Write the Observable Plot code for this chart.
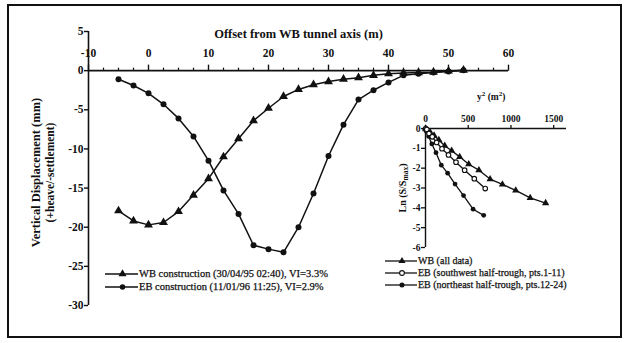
<!DOCTYPE html>
<html><head><meta charset="utf-8">
<script src="https://cdn.jsdelivr.net/npm/d3@7"></script>
<script src="https://cdn.jsdelivr.net/npm/@observablehq/plot@0.6"></script>
<style>
body{margin:0;background:#fff;}
#wrap{position:relative;width:625px;height:343px;overflow:hidden;font-family:"Liberation Serif","Times New Roman",serif;color:#111;}
#wrap svg{position:absolute;left:0;top:0;}
.frame{position:absolute;left:7px;top:4px;width:611px;height:330px;border:2px solid #111;}
.leg{position:absolute;display:flex;align-items:center;white-space:nowrap;line-height:1;-webkit-text-stroke:0.25px #111;}
.leg svg{position:static !important;margin-right:1px;}
.lbl{position:absolute;font-weight:bold;white-space:nowrap;line-height:1;}
</style></head><body><div id="wrap"><div class="frame"></div></div>
<script>
// Main chart: offset from WB tunnel axis (m) and vertical displacement (mm)
const offsets = [-5, -2.5, 0, 2.5, 5, 7.5, 10, 12.5, 15, 17.5, 20, 22.5, 25, 27.5, 30, 32.5, 35, 37.5, 40, 42.5, 45, 47.5, 50, 52.5];
const wbDisp = [-17.9, -19.2, -19.7, -19.4, -18.0, -15.9, -13.8, -11.0, -8.7, -6.4, -4.8, -3.3, -2.4, -1.8, -1.4, -1.1, -0.9, -0.6, -0.4, -0.3, -0.25, -0.2, -0.05, 0.05];
const ebDisp = [-1.1, -1.9, -2.9, -4.3, -6.1, -8.4, -11.5, -15.3, -18.3, -22.3, -22.8, -23.2, -20.0, -15.7, -10.9, -6.9, -3.7, -2.5, -1.5, -0.6, -0.4, -0.25, -0.1, 0.05];
const xDomain = [-10, 60];
const yDomain = [-30, 5];
const xMajorTicks = [-10, 0, 10, 20, 30, 40, 50, 60];
const xMinorTicks = [-7.5, -5, -2.5, 2.5, 5, 7.5, 12.5, 15, 17.5, 22.5, 25, 27.5, 32.5, 35, 37.5, 42.5, 45, 47.5, 52.5, 55, 57.5];
const yTicks = [5, 0, -5, -10, -15, -20, -25, -30];
const mainLegend = ["WB construction (30/04/95 02:40), VI=3.3%", "EB construction (11/01/96 11:25), VI=2.9%"];

// Inset: y^2 (m^2) vs Ln(S/Smax)
const wbY2 = [0, 6, 25, 56, 100, 156, 225, 306, 400, 506, 625, 756, 900, 1056, 1225, 1406];
const wbLn = [0, -0.03, -0.09, -0.2, -0.35, -0.58, -0.87, -1.12, -1.43, -1.8, -2.1, -2.55, -2.82, -3.12, -3.5, -3.76];
const swY2 = [2, 15, 41, 79, 130, 193, 269, 357, 458, 571, 699];
const swLn = [-0.02, -0.05, -0.25, -0.42, -0.7, -1.02, -1.33, -1.7, -2.1, -2.53, -3.03];
const neY2 = [1, 13, 37, 74, 123, 185, 259, 346, 445, 557, 681];
const neLn = [0, -0.15, -0.4, -0.78, -1.22, -1.85, -2.25, -2.8, -3.38, -4.07, -4.38];
const insetXDomain = [0, 1650];
const insetYDomain = [-6, 0];
const insetXTicks = [0, 500, 1000, 1500];
const insetYTicks = [0, -1, -2, -3, -4, -5, -6];
const insetLegend = ["WB (all data)", "EB (southwest half-trough, pts.1-11)", "EB (northeast half-trough, pts.12-24)"];

const serif = "Liberation Serif, Times New Roman, serif";
const tickUp = (len) => ({draw(ctx) { ctx.moveTo(0, 0); ctx.lineTo(0, -len); }});

const mainData = offsets.map((x, i) => ({x, wb: wbDisp[i], eb: ebDisp[i]}));

const main = Plot.plot({
  width: 625, height: 343,
  marginLeft: 88, marginRight: 117, marginTop: 31, marginBottom: 38,
  x: {domain: xDomain, axis: null},
  y: {domain: yDomain, axis: null},
  style: {background: "transparent", fontFamily: serif, color: "#111"},
  marks: [
    Plot.ruleY([0], {stroke: "#111", strokeWidth: 1.6}),
    Plot.ruleX([xDomain[0]], {y1: yDomain[0], y2: yDomain[1], stroke: "#111", strokeWidth: 1.6}),
    Plot.dot(xMinorTicks, {x: d => d, y: 0, symbol: tickUp(3), r: 1, fill: "none", stroke: "#111", strokeWidth: 1.2}),
    Plot.dot(xMajorTicks, {x: d => d, y: 0, symbol: tickUp(6), r: 1, fill: "none", stroke: "#111", strokeWidth: 1.4}),
    Plot.text(xMajorTicks, {x: d => d, y: 0, text: d => String(d), dy: -17, fontSize: 11.5, fontWeight: "bold", fill: "#111"}),
    Plot.axisY({ticks: yTicks, tickFormat: d => String(d), tickSize: 4, tickPadding: 1, fontSize: 11.5, fontWeight: "bold", strokeWidth: 1.4, label: null}),
    Plot.text(["Offset from WB tunnel axis (m)"], {frameAnchor: "top", dy: 2, textAnchor: "middle", lineAnchor: "middle", fontSize: 12.5, fontWeight: "bold", fill: "#111"}),
    Plot.text(["Vertical Displacement (mm)"], {frameAnchor: "left", dx: -53, dy: 4, rotate: -90, textAnchor: "middle", lineAnchor: "middle", fontSize: 12.5, fontWeight: "bold", fill: "#111"}),
    Plot.text(["(+heave/-settlement)"], {frameAnchor: "left", dx: -38, dy: 4, rotate: -90, textAnchor: "middle", lineAnchor: "middle", fontSize: 11.5, fontWeight: "bold", fill: "#111"}),
    Plot.line(mainData, {x: "x", y: "wb", stroke: "#111", strokeWidth: 1.5}),
    Plot.dot(mainData, {x: "x", y: "wb", symbol: "triangle", r: 3.3, fill: "#111"}),
    Plot.line(mainData, {x: "x", y: "eb", stroke: "#111", strokeWidth: 1.5}),
    Plot.dot(mainData, {x: "x", y: "eb", symbol: "circle", r: 3, fill: "#111"})
  ]
});

const wbIn = wbY2.map((x, i) => ({x, y: wbLn[i]}));
const swIn = swY2.map((x, i) => ({x, y: swLn[i]}));
const neIn = neY2.map((x, i) => ({x, y: neLn[i]}));

const inset = Plot.plot({
  width: 625, height: 343,
  marginLeft: 425, marginRight: 59, marginTop: 128, marginBottom: 96,
  x: {domain: insetXDomain},
  y: {domain: insetYDomain},
  style: {background: "transparent", fontFamily: serif, color: "#111"},
  marks: [
    Plot.ruleY([insetYDomain[1]], {stroke: "#111", strokeWidth: 1.4}),
    Plot.ruleX([insetXDomain[0]], {y1: insetYDomain[0], y2: insetYDomain[1], stroke: "#111", strokeWidth: 1.4}),
    Plot.axisX({anchor: "top", ticks: insetXTicks, tickFormat: d => String(d), tickSize: 4, tickPadding: 3, fontSize: 9.5, fontWeight: "bold", strokeWidth: 1.3, label: null}),
    Plot.axisY({ticks: insetYTicks, tickFormat: d => String(d), tickSize: 4, tickPadding: 1, fontSize: 9.5, fontWeight: "bold", strokeWidth: 1.3, label: null}),
    Plot.line(wbIn, {x: "x", y: "y", stroke: "#111", strokeWidth: 1.3}),
    Plot.dot(wbIn, {x: "x", y: "y", symbol: "triangle", r: 2.7, fill: "#111"}),
    Plot.line(neIn, {x: "x", y: "y", stroke: "#111", strokeWidth: 1.3}),
    Plot.dot(neIn, {x: "x", y: "y", symbol: "circle", r: 2.4, fill: "#111"}),
    Plot.line(swIn, {x: "x", y: "y", stroke: "#111", strokeWidth: 1.3}),
    Plot.dot(swIn, {x: "x", y: "y", symbol: "circle", r: 2.3, fill: "white", stroke: "#111", strokeWidth: 1.1})
  ]
});

const wrap = document.getElementById("wrap");
wrap.appendChild(main);
wrap.appendChild(inset);

function swatch(kind, w, size) {
  const ns = "http://www.w3.org/2000/svg";
  const s = document.createElementNS(ns, "svg");
  s.setAttribute("width", w); s.setAttribute("height", 10);
  const l = document.createElementNS(ns, "line");
  l.setAttribute("x1", 0); l.setAttribute("x2", w); l.setAttribute("y1", 5); l.setAttribute("y2", 5);
  l.setAttribute("stroke", "#111"); l.setAttribute("stroke-width", 1.3);
  s.appendChild(l);
  const p = document.createElementNS(ns, "path");
  const sym = kind === "tri" ? d3.symbolTriangle : d3.symbolCircle;
  p.setAttribute("d", d3.symbol(sym, size)());
  p.setAttribute("transform", `translate(${w / 2 + 1},5)`);
  if (kind === "open") { p.setAttribute("fill", "white"); p.setAttribute("stroke", "#111"); p.setAttribute("stroke-width", 1.1); }
  else p.setAttribute("fill", "#111");
  s.appendChild(p);
  return s;
}
function legendRow(x, y, kind, text, w, size, fs) {
  const d = document.createElement("div");
  d.className = "leg";
  d.style.left = x + "px"; d.style.top = (y - 5) + "px"; d.style.fontSize = fs + "px";
  d.appendChild(swatch(kind, w, size));
  const t = document.createElement("span"); t.textContent = text; d.appendChild(t);
  wrap.appendChild(d);
}
legendRow(105, 274, "tri", mainLegend[0], 33, 28, 10.5);
legendRow(105, 287, "dot", mainLegend[1], 33, 24, 10.5);
legendRow(385, 261, "tri", insetLegend[0], 32, 22, 10);
legendRow(385, 273, "open", insetLegend[1], 32, 18, 10);
legendRow(385, 285, "dot", insetLegend[2], 32, 20, 10);

const yl = document.createElement("div");
yl.className = "lbl";
yl.style.fontSize = "9.5px";
yl.innerHTML = "y<sup style='font-size:7px'>2</sup> (m<sup style='font-size:7px'>2</sup>)";
yl.style.left = "477px"; yl.style.top = "91px";
wrap.appendChild(yl);

const ll = document.createElement("div");
ll.className = "lbl";
ll.style.fontSize = "10px";
ll.innerHTML = "Ln (S/S<span style='font-size:7.5px;position:relative;top:2px'>max</span>)";
ll.style.left = "403px"; ll.style.top = "188px";
ll.style.transform = "translate(-50%,-50%) rotate(-90deg)";
wrap.appendChild(ll);
</script>
</body></html>
